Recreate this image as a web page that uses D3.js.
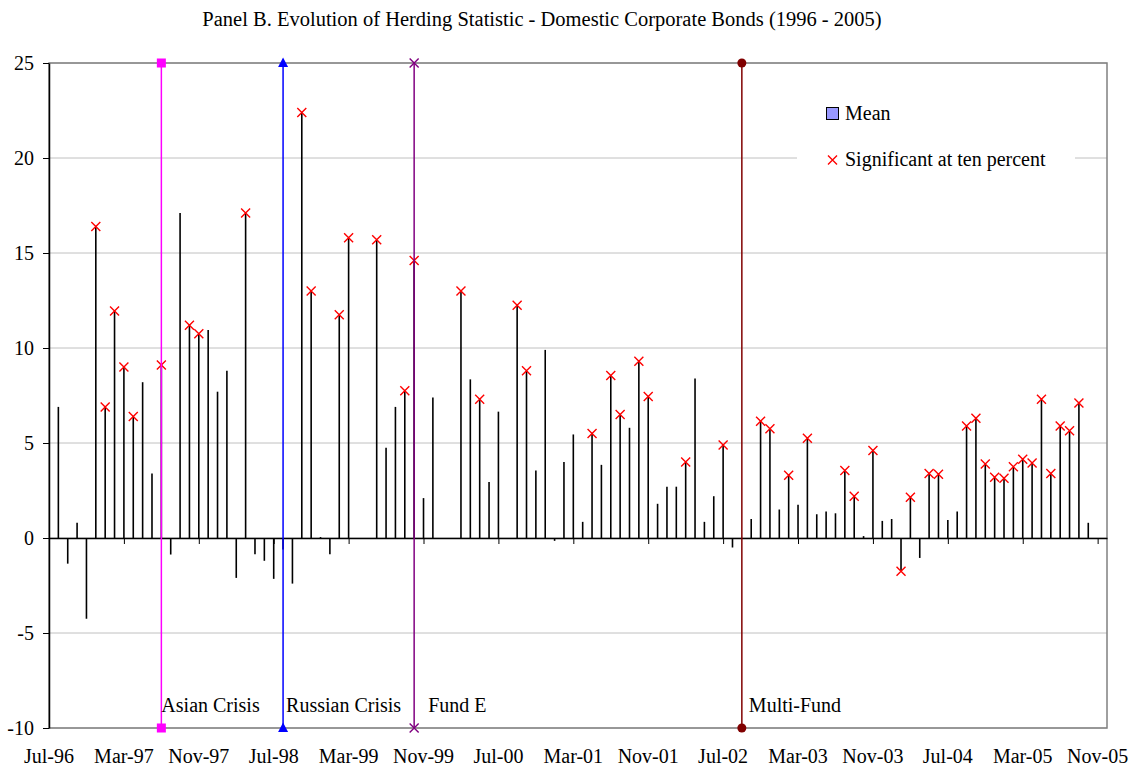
<!DOCTYPE html>
<html>
<head>
<meta charset="utf-8">
<script src="https://cdn.jsdelivr.net/npm/d3@7"></script>
<style>
  body { margin: 0; background: #fff; }
  svg text { font-family: "Liberation Serif", "Times New Roman", serif; }
</style>
</head>
<body>
<div id="chart"></div>
<script>
// monthly mean herding statistic, Aug-96 .. Nov-05
var firstMonth = 'Aug-96';
var lastMonth = 'Nov-05';
var meanValues = [
    6.9, -1.35, 0.8, -4.25, 16.4,
    6.9, 11.95, 9.0, 6.4, 8.2, 3.4, 9.1, -0.87, 17.1, 11.2, 10.75, 10.95,
    7.7, 8.8, -2.1, 17.1, -0.85, -1.2, -2.15, -0.6, -2.4, 22.4, 13.0, 0.05,
    -0.85, 11.75, 15.8, 0, 0, 15.7, 4.75, 6.9, 7.75, 14.6, 2.1, 7.4,
    0, 0, 13.0, 8.35, 7.3, 2.95, 6.65, 0, 12.25, 8.8, 3.55, 9.9,
    -0.15, 4.0, 5.45, 0.85, 5.5, 3.85, 8.55, 6.5, 5.8, 9.3, 7.45, 1.8,
    2.7, 2.7, 4.0, 8.4, 0.85, 2.2, 4.9, -0.5, 0, 1.0, 6.15, 5.75,
    1.5, 3.3, 1.75, 5.25, 1.25, 1.4, 1.3, 3.55, 2.2, 0.1, 4.6, 0.9,
    1.0, -1.75, 2.15, -1.05, 3.4, 3.35, 0.95, 1.4, 5.9, 6.3, 3.9, 3.2,
    3.15, 3.75, 4.15, 3.95, 7.3, 3.4, 5.9, 5.65, 7.1, 0.8, 0
];
// 1 = significant at ten percent
var significant = [
    0, 0, 0, 0, 1,
    1, 1, 1, 1, 0, 0, 1, 0, 0, 1, 1, 0,
    0, 0, 0, 1, 0, 0, 0, 0, 0, 1, 1, 0,
    0, 1, 1, 0, 0, 1, 0, 0, 1, 1, 0, 0,
    0, 0, 1, 0, 1, 0, 0, 0, 1, 1, 0, 0,
    0, 0, 0, 0, 1, 0, 1, 1, 0, 1, 1, 0,
    0, 0, 1, 0, 0, 0, 1, 0, 0, 0, 1, 1,
    0, 1, 0, 1, 0, 0, 0, 1, 1, 0, 1, 0,
    0, 1, 1, 0, 1, 1, 0, 0, 1, 1, 1, 1,
    1, 1, 1, 1, 1, 1, 1, 1, 1, 0, 0
];
var xTickLabels = ['Jul-96','Mar-97','Nov-97','Jul-98','Mar-99','Nov-99','Jul-00',
    'Mar-01','Nov-01','Jul-02','Mar-03','Nov-03','Jul-04','Mar-05','Nov-05'];
var yTicks = [-10, -5, 0, 5, 10, 15, 20, 25];
var eventNames = ['Asian Crisis', 'Russian Crisis', 'Fund E', 'Multi-Fund'];
var eventMonths = ['Jul-97', 'Aug-98', 'Oct-99', 'Sep-02'];
var eventColors = ['#ff00ff', '#0000ff', '#800080', '#800000'];
var eventMarkers = ['square', 'triangle', 'cross', 'circle'];
var eventLabelDx = [0, 3, 14, 7];

var parseMonth = d3.timeParse('%b-%y');
var months = d3.timeMonth.range(parseMonth(firstMonth), d3.timeMonth.offset(parseMonth(lastMonth), 1));
var data = months.map((m, i) => ({ date: m, mean: meanValues[i], sig: significant[i] }));

var W = 1135, H = 766;
var margin = {top: 63, right: 28, bottom: 38, left: 49};

var svg = d3.select('#chart').append('svg')
    .attr('width', W)
    .attr('height', H);

// month index scale so every month is the same width
var t0 = parseMonth(xTickLabels[0]);
var monthIndex = d => d3.timeMonth.count(t0, d);
var xi = d3.scaleLinear()
    .domain([0, 113])
    .range([margin.left, W - margin.right]);
var x = d => xi(monthIndex(d));

var y = d3.scaleLinear()
    .domain([-10, 25])
    .range([H - margin.bottom, margin.top]);

svg.append('text')
    .attr('x', 542)
    .attr('y', 26)
    .attr('text-anchor', 'middle')
    .style('font-size', '20.5px')
    .text('Panel B. Evolution of Herding Statistic - Domestic Corporate Bonds (1996 - 2005)');

// gridlines
svg.append('g')
    .selectAll('line')
    .data(yTicks)
    .enter().append('line')
    .attr('x1', xi(0))
    .attr('x2', xi(113))
    .attr('y1', d => y(d))
    .attr('y2', d => y(d))
    .attr('stroke', '#c0c0c0')
    .attr('stroke-width', 1);

// plot frame
svg.append('rect')
    .attr('x', xi(0))
    .attr('y', y(25))
    .attr('width', xi(113) - xi(0))
    .attr('height', y(-10) - y(25))
    .attr('fill', 'none')
    .attr('stroke', '#808080')
    .attr('stroke-width', 1.5);

// legend background hides the gridline behind it
svg.append('rect')
    .attr('x', 797)
    .attr('y', 85)
    .attr('width', 278)
    .attr('height', 100)
    .attr('fill', '#fff');

// y axis (ticks from d3, labels drawn as plain text below)
var yAxis = svg.append('g')
    .attr('transform', 'translate(' + xi(0) + ',0)')
    .call(d3.axisLeft(y).tickValues(yTicks).tickFormat('')
        .tickSize(6).tickSizeOuter(0));
yAxis.select('.domain').attr('stroke', '#000').attr('stroke-width', 1.5);

svg.append('g')
    .selectAll('text')
    .data(yTicks)
    .enter().append('text')
    .attr('x', xi(0) - 15)
    .attr('y', d => y(d) + 7)
    .attr('text-anchor', 'end')
    .style('font-size', '20px')
    .text(d => String(d));

// x axis on the zero line, labels pushed to the bottom
var xAxis = svg.append('g')
    .attr('transform', 'translate(0,' + y(0) + ')')
    .call(d3.axisBottom(xi)
        .tickValues(xTickLabels.map(l => monthIndex(parseMonth(l))))
        .tickFormat('')
        .tickSize(6)
        .tickSizeOuter(0));
xAxis.select('.domain').attr('stroke', '#000').attr('stroke-width', 1.5);

svg.append('g')
    .selectAll('text')
    .data(xTickLabels)
    .enter().append('text')
    .attr('x', d => x(parseMonth(d)))
    .attr('y', y(-10) + 35)
    .attr('text-anchor', 'middle')
    .style('font-size', '20px')
    .text(d => d);

// mean lines
svg.append('g')
    .selectAll('line')
    .data(data)
    .enter().append('line')
    .attr('x1', d => x(d.date))
    .attr('x2', d => x(d.date))
    .attr('y1', y(0))
    .attr('y2', d => y(d.mean))
    .attr('stroke', '#000')
    .attr('stroke-width', 1.6);

// significance crosses
var cross = (g, cx, cy, r, color) => {
    g.append('path')
        .attr('d', 'M' + (cx - r) + ',' + (cy - r) + 'L' + (cx + r) + ',' + (cy + r) +
                   'M' + (cx - r) + ',' + (cy + r) + 'L' + (cx + r) + ',' + (cy - r))
        .attr('stroke', color)
        .attr('stroke-width', 1.4)
        .attr('fill', 'none');
};
var sigG = svg.append('g');
data.filter(d => d.sig).forEach(d => cross(sigG, x(d.date), y(d.mean), 4.5, '#ff0000'));

// event lines
var events = eventNames.map((name, i) => ({
    name: name,
    date: parseMonth(eventMonths[i]),
    color: eventColors[i],
    marker: eventMarkers[i],
    dx: eventLabelDx[i]
}));

var evG = svg.append('g');
events.forEach(ev => {
    var ex = x(ev.date);
    evG.append('line')
        .attr('x1', ex).attr('x2', ex)
        .attr('y1', y(25)).attr('y2', y(-10))
        .attr('stroke', ev.color)
        .attr('stroke-width', 1.5);
    [25, -10].forEach(v => {
        var cy = y(v);
        if (ev.marker === 'square') {
            evG.append('rect')
                .attr('x', ex - 4.5).attr('y', cy - 4.5)
                .attr('width', 9).attr('height', 9)
                .attr('fill', ev.color);
        } else if (ev.marker === 'triangle') {
            evG.append('path')
                .attr('d', 'M' + ex + ',' + (cy - 5.5) + 'L' + (ex + 5) + ',' + (cy + 4) + 'L' + (ex - 5) + ',' + (cy + 4) + 'Z')
                .attr('fill', ev.color);
        } else if (ev.marker === 'circle') {
            evG.append('circle')
                .attr('cx', ex).attr('cy', cy).attr('r', 4.5)
                .attr('fill', ev.color);
        } else {
            cross(evG, ex, cy, 4.5, ev.color);
        }
    });
    evG.append('text')
        .attr('x', ex + ev.dx)
        .attr('y', 712)
        .style('font-size', '20px')
        .text(ev.name);
});

// legend
var legend = svg.append('g');
legend.append('rect')
    .attr('x', 826.5).attr('y', 107.5)
    .attr('width', 12).attr('height', 12)
    .attr('fill', '#9999ff')
    .attr('stroke', '#000')
    .attr('stroke-width', 1);
legend.append('text')
    .attr('x', 845).attr('y', 120)
    .style('font-size', '20px')
    .text('Mean');
cross(legend, 832.5, 160, 4.5, '#ff0000');
legend.append('text')
    .attr('x', 845).attr('y', 166)
    .style('font-size', '20px')
    .text('Significant at ten percent');
</script>
</body>
</html>
